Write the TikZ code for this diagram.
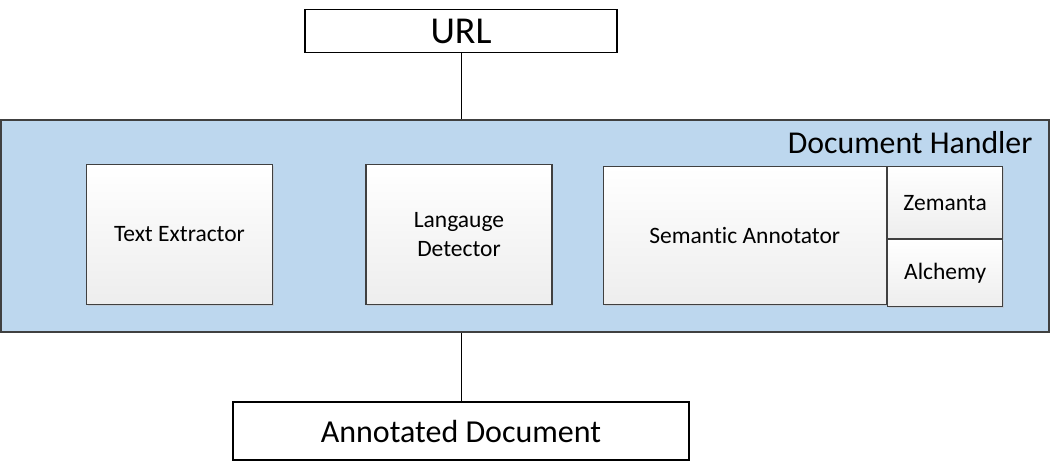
\documentclass[tikz,border=0pt]{standalone}
\usepackage{fontspec}
\setmainfont{Carlito}[Ligatures=NoCommon]
\usetikzlibrary{positioning}
\usetikzlibrary{shadows}

\definecolor{handlerblue}{HTML}{BDD7EE}
\definecolor{edgegray}{HTML}{404040}

\begin{document}
\begin{tikzpicture}[x=1pt,y=-1pt,
    endpoint/.style={draw=black, line width=1.3pt, fill=white, inner sep=0pt},
    handler/.style={draw=edgegray, line width=1.3pt, fill=handlerblue, inner sep=0pt},
    part/.style={draw=edgegray, line width=1.1pt, top color=white, bottom color=black!7,
        inner sep=0pt, align=center, font=\fontsize{23.5}{29}\selectfont,
        drop shadow={shadow xshift=1.3pt, shadow yshift=-1.3pt, fill=black!25}},
    wire/.style={line width=0.9pt}]
  \useasboundingbox (0,0) rectangle (1052,461);

  %% input and output
  \node[endpoint, minimum width=312pt, minimum height=43pt,
        font=\fontsize{38}{40}\selectfont] (url) at (461,31) {URL};
  \node[endpoint, minimum width=456pt, minimum height=58pt,
        font=\fontsize{32}{34}\selectfont] (ad) at (461,431) {Annotated Document};

  %% the handler
  \node[handler, minimum width=1048pt, minimum height=212pt] (dh) at (525,226) {};
  \node[anchor=base east, font=\fontsize{31.8}{34}\selectfont] (dhlabel) at (1036,153)
        {Document Handler};

  %% components
  \node[part, minimum width=186pt, minimum height=140pt] (te) at (179.5,234.3)
        {Text Extractor};
  \node[part, minimum width=186pt, minimum height=140pt] (ld) at (459,234.3)
        {Langauge\\Detector};
  \node[part, minimum width=283pt, minimum height=138pt] (sa) at (744.8,235.8)
        {Semantic Annotator};
  \node[part, anchor=north west, minimum width=115.5pt, minimum height=71.6pt]
        (zem) at (sa.north east) {Zemanta};
  \node[part, anchor=north west, minimum width=115.5pt, minimum height=66.7pt]
        (alc) at (zem.south west) {Alchemy};

  %% wires
  \draw[wire] (url) -- (url |- dh.north);
  \draw[wire] (ad) -- (ad |- dh.south);
\end{tikzpicture}
\end{document}
